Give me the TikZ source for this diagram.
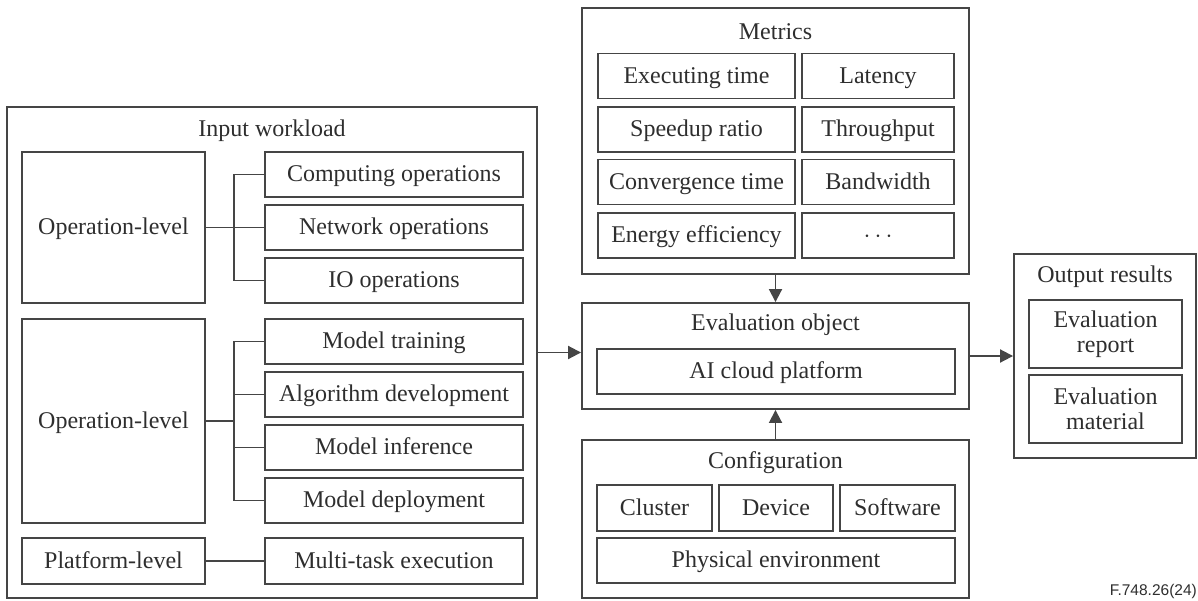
\documentclass[tikz,border=0pt]{standalone}
\usepackage{fontspec}
\setmainfont{Liberation Serif}
\newfontfamily\footfont{Liberation Sans}
\usetikzlibrary{arrows.meta}
\definecolor{lc}{HTML}{454545}
\definecolor{tc}{HTML}{2E2E2E}
\tikzset{
  bxbase/.style={draw=lc, line width=1.9pt, inner sep=0pt, text=tc,
    font=\fontsize{24}{25}\selectfont, align=center},
  bx/.style={bxbase, text height=19pt, text depth=5pt},
  ttl/.style={inner sep=0pt, text=tc, font=\fontsize{24}{25}\selectfont, text height=19pt, text depth=5pt},
  conn/.style={draw=lc, line width=1.9pt},
  arr/.style={draw=lc, line width=1.9pt, -{Triangle[length=13pt,width=13pt]}}
}
\newcommand{\bxat}[6]{\node[bx, minimum width=#4, minimum height=#5] (#1) at (#2,#3) {#6};}
\begin{document}
\begin{tikzpicture}[x=1pt,y=-1pt]
\useasboundingbox (0,0) rectangle (1198,600);
% Input workload
\bxat{inp}{272}{352.5}{530pt}{491pt}{}
\node[ttl] (inpt) at (272,129) {Input workload};
\bxat{op1}{113.5}{227.5}{183pt}{151pt}{Operation-level}
\bxat{comp}{394}{174.5}{258pt}{45pt}{Computing operations}
\bxat{net}{394}{227.5}{258pt}{45pt}{Network operations}
\bxat{io}{394}{280.5}{258pt}{45pt}{IO operations}
\bxat{op2}{113.5}{421}{183pt}{204pt}{Operation-level}
\bxat{train}{394}{341.5}{258pt}{45pt}{Model training}
\bxat{algo}{394}{394.5}{258pt}{45pt}{Algorithm development}
\bxat{infer}{394}{447.5}{258pt}{45pt}{Model inference}
\bxat{deploy}{394}{500.5}{258pt}{45pt}{Model deployment}
\bxat{plat}{113.5}{561}{183pt}{46pt}{Platform-level}
\bxat{multi}{394}{561}{258pt}{46pt}{Multi-task execution}
\coordinate (b1) at (234,227.5);
\coordinate (b2) at (234,421);
\draw[conn] (op1.east) -- (net.west);
\draw[conn] (comp.west) -| (b1) |- (io.west);
\draw[conn] (op2.east) -- (b2);
\draw[conn] (train.west) -| (b2) |- (deploy.west);
\draw[conn] (algo.west) -- (algo.west -| b2);
\draw[conn] (infer.west) -- (infer.west -| b2);
\draw[conn] (plat.east) -- (multi.west);
% Metrics
\bxat{met}{775.5}{141}{387pt}{266pt}{}
\node[ttl] (mett) at (775.5,32) {Metrics};
\bxat{m1}{696.5}{76}{197pt}{45pt}{Executing time}
\bxat{m2}{878}{76}{152pt}{45pt}{Latency}
\bxat{m3}{696.5}{129.5}{197pt}{45pt}{Speedup ratio}
\bxat{m4}{878}{129.5}{152pt}{45pt}{Throughput}
\bxat{m5}{696.5}{182}{197pt}{45pt}{Convergence time}
\bxat{m6}{878}{182}{152pt}{45pt}{Bandwidth}
\bxat{m7}{696.5}{235.5}{197pt}{45pt}{Energy efficiency}
\bxat{m8}{878}{235.5}{152pt}{45pt}{$\cdots$}
% Evaluation object
\bxat{ev}{775.5}{356}{387pt}{106pt}{}
\node[ttl] (evt) at (775.5,323) {Evaluation object};
\bxat{ai}{776}{371.5}{358pt}{45pt}{AI cloud platform}
% Configuration
\bxat{cfg}{775.5}{519}{387pt}{158pt}{}
\node[ttl] (cfgt) at (775.5,461) {Configuration};
\bxat{clu}{654.5}{508}{115pt}{46pt}{Cluster}
\bxat{dev}{776}{508}{114pt}{46pt}{Device}
\bxat{sw}{897.5}{508}{115pt}{46pt}{Software}
\bxat{phy}{776}{560.5}{358pt}{45pt}{Physical environment}
% Output results
\bxat{out}{1105}{356}{182pt}{204pt}{}
\node[ttl] (outt) at (1105,275) {Output results};
\node[bxbase, minimum width=153pt, minimum height=68pt] (rep) at (1105.5,334) {Evaluation\\report};
\node[bxbase, minimum width=153pt, minimum height=68pt] (mat) at (1105.5,409) {Evaluation\\material};
% Arrows
\draw[arr] (inp.east) -- (inp.east -| ev.west);
\draw[arr] (ev.east) -- (out.west);
\draw[arr] (met.south) -- (ev.north);
\draw[arr] (cfg.north) -- (ev.south);
% Footer
\node[anchor=east, inner sep=0pt, text=tc, font=\footfont\fontsize{15.5}{17}\selectfont] (foot) at (1197,591) {F.748.26(24)};
\end{tikzpicture}
\end{document}
